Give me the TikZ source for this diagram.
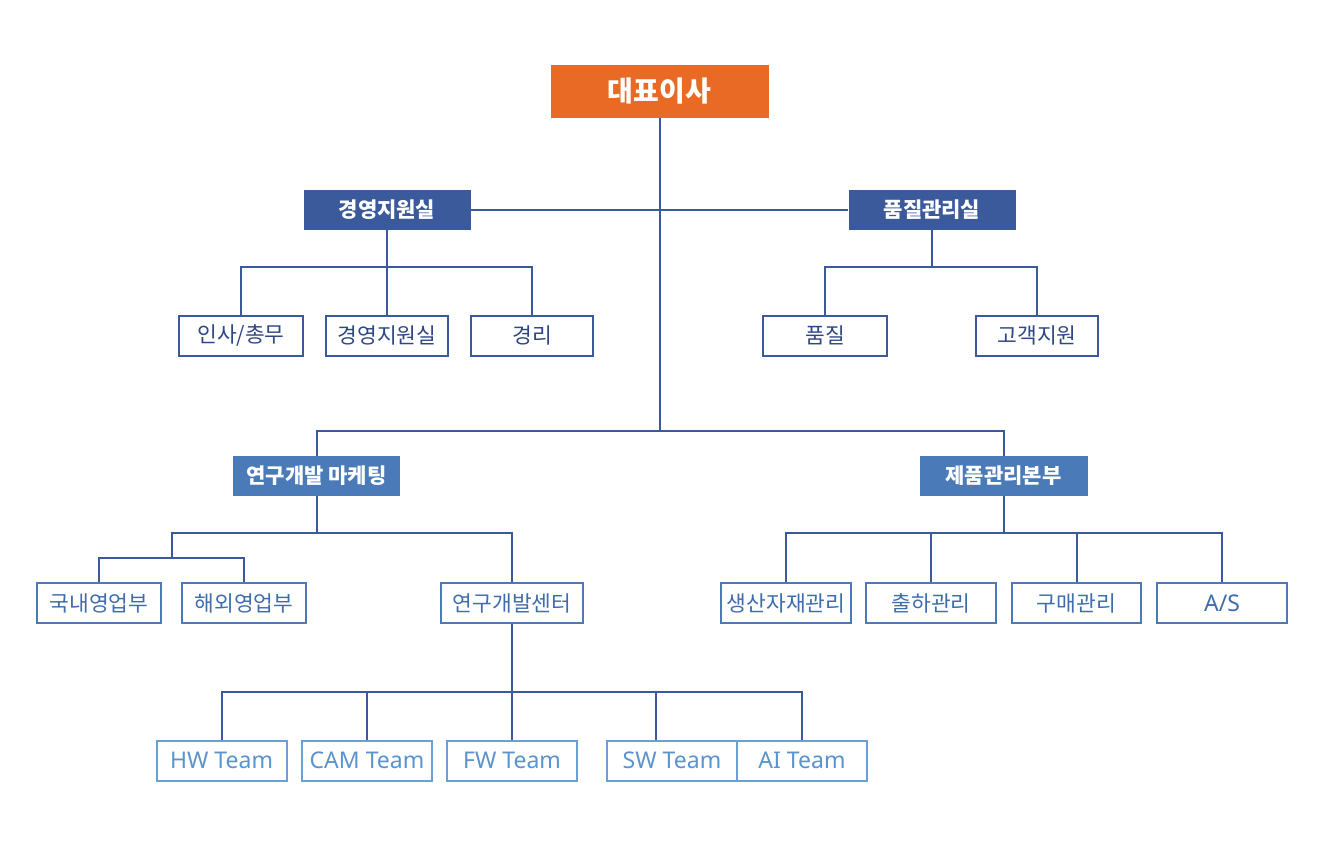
\documentclass[tikz,border=0pt]{standalone}
\usepackage{fontspec}
\setmainfont{Noto Sans CJK KR}
\newfontfamily\latinfont{Noto Sans}
\usetikzlibrary{calc}
\definecolor{ceoorange}{HTML}{E96A24}
\definecolor{navyhdr}{HTML}{3B5A9B}
\definecolor{bluehdr}{HTML}{4A7AB8}
\definecolor{linecol}{HTML}{3B5A9B}
\definecolor{navytxt}{HTML}{2E4784}
\definecolor{bluetxt}{HTML}{3E6CAD}
\definecolor{teamborder}{HTML}{6AA0D5}
\definecolor{teamtxt}{HTML}{5A93CE}
\tikzset{
  base/.style={rectangle, inner sep=0pt, anchor=center},
  ceobox/.style={base, fill=ceoorange, text=white, minimum width=218pt, minimum height=53pt,
    font=\fontsize{28}{32}\selectfont\bfseries},
  hdrA/.style={base, fill=navyhdr, text=white, minimum width=167pt, minimum height=40pt,
    font=\fontsize{21}{24}\selectfont\bfseries},
  hdrB/.style={base, fill=bluehdr, text=white, minimum height=40pt,
    font=\fontsize{21}{24}\selectfont\bfseries},
  subA/.style={base, draw=navyhdr, line width=2pt, fill=white, text=navytxt, minimum height=40pt,
    font=\fontsize{21.5}{24}\selectfont},
  subB/.style={base, draw=bluehdr, line width=2pt, fill=white, text=bluetxt, minimum height=40pt,
    font=\fontsize{21.5}{24}\selectfont},
  team/.style={base, draw=teamborder, line width=2pt, fill=white, text=teamtxt, minimum width=130pt,
    minimum height=40pt, font=\latinfont\fontsize{23}{26}\selectfont},
  conn/.style={draw=linecol, line width=2pt},
}
\begin{document}
\begin{tikzpicture}[x=1pt, y=-1pt]
\useasboundingbox (0,0) rectangle (1320,846);
\fill[white] (0,0) rectangle (1320,846);
% bus levels
\coordinate (b1) at (0,267);
\coordinate (b2) at (0,431);
\coordinate (b3) at (0,533);
\coordinate (m1) at (172,533);
\coordinate (m2) at (172,558);
\coordinate (b5) at (0,692);
% nodes
\node[ceobox] (ceo) at (659.5,91.5) {대표이사};
\node[hdrA] (gy) at (387,209.5) {경영지원실};
\node[hdrA] (qm) at (932,209.5) {품질관리실};
\node[subA, minimum width=124pt] (c1) at (241,335.5) {인사/총무};
\node[subA, minimum width=122pt] (c2) at (387,335.5) {경영지원실};
\node[subA, minimum width=122pt] (c3) at (532,335.5) {경리};
\node[subA, minimum width=124pt] (q1) at (825,335.5) {품질};
\node[subA, minimum width=122pt] (q2) at (1037,335.5) {고객지원};
\node[hdrB, minimum width=167pt] (rd) at (316.5,476) {연구개발 마케팅};
\node[hdrB, minimum width=168pt] (pm) at (1003.5,476) {제품관리본부};
\node[subB, minimum width=124pt] (s1) at (99,603) {국내영업부};
\node[subB, minimum width=124pt] (s2) at (244,603) {해외영업부};
\node[subB, minimum width=142pt] (rc) at (512,603) {연구개발센터};
\node[subB, minimum width=130pt] (p1) at (786,603) {생산자재관리};
\node[subB, minimum width=130pt] (p2) at (931,603) {출하관리};
\node[subB, minimum width=129pt] (p3) at (1076.5,603) {구매관리};
\node[subB, minimum width=130pt, font=\latinfont\fontsize{23}{26}\selectfont] (p4) at (1222,603) {A/S};
\node[team] (hw) at (221.5,760.5) {HW Team};
\node[team] (cam) at (367,760.5) {CAM Team};
\node[team] (fw) at (512,760.5) {FW Team};
\node[team] (sw) at (672,760.5) {SW Team};
\node[team] (ai) at (802,760.5) {AI Team};
\coordinate (swt) at ($(sw.north west)+(50,0)$);
% connectors
\path[conn] (ceo.south) -- (ceo.south |- b2);
\path[conn] (gy.east) -- (qm.west);
\path[conn] (gy.south) -- (c2.north);
\path[conn] (c1.north) |- (gy.south |- b1) -| (c3.north);
\path[conn] (qm.south) -- (qm.south |- b1);
\path[conn] (q1.north) |- (qm.south |- b1) -| (q2.north);
\path[conn] (rd.north) |- (ceo.south |- b2) -| (pm.north);
\path[conn] (rd.south) -- (rd.south |- m1);
\path[conn] (m2) -- (m1) -| (rc.north);
\path[conn] (s1.north) |- (m2) -| (s2.north);
\path[conn] (pm.south) -- (pm.south |- b3);
\path[conn] (p1.north) |- (pm.south |- b3) -| (p4.north);
\path[conn] (p2.north) -- (p2.north |- b3);
\path[conn] (p3.north) -- (p3.north |- b3);
\path[conn] (rc.south) -- (fw.north);
\path[conn] (hw.north) |- (rc.south |- b5) -| (ai.north);
\path[conn] (cam.north) -- (cam.north |- b5);
\path[conn] (swt) -- (swt |- b5);
\end{tikzpicture}
\end{document}
